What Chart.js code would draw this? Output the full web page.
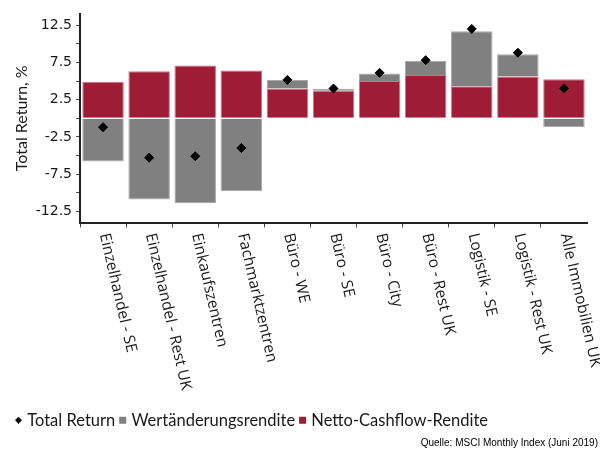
<!DOCTYPE html>
<html lang="de">
<head>
<meta charset="utf-8">
<title>Total Return UK</title>
<script src="https://cdn.jsdelivr.net/npm/chart.js@4/dist/chart.umd.min.js"></script>
<style>
  html, body { margin: 0; padding: 0; background: #fff; }
  #box { width: 600px; height: 451px; }
</style>
</head>
<body>
<div id="box"><canvas id="grafico"></canvas></div>
<script>
// ------------------------------------------------------------
// Data (values in %)
// ------------------------------------------------------------
const kategorien = [
  'Einzelhandel - SE', 'Einzelhandel - Rest UK', 'Einkaufszentren',
  'Fachmarktzentren', 'Büro - WE', 'Büro - SE', 'Büro - City',
  'Büro - Rest UK', 'Logistik - SE', 'Logistik - Rest UK', 'Alle Immobilien UK'
];
const nettoCashflow = [4.9, 6.3, 7.1, 6.4, 4.0, 3.7, 5.0, 5.8, 4.3, 5.6, 5.25];
const wertaenderung = [-5.8, -10.9, -11.4, -9.8, 1.15, 0.25, 1.0, 1.9, 7.4, 3.0, -1.2];
const totalReturn   = [-1.2, -5.3, -5.1, -4.0, 5.15, 4.0, 6.1, 7.8, 12.0, 8.8, 4.0];
const yTicks        = [-12.5, -10, -7.5, -5, -2.5, 0, 2.5, 5, 7.5, 10, 12.5];
const quelle = 'Quelle: MSCI Monthly Index (Juni 2019)';

const ROT  = '#9e1c36';
const GRAU = '#808080';

// Small diamond for the legend (rectRot in the legend is too big)
function rautenSymbol(tamanho, cor) {
  const c = document.createElement('canvas');
  c.width = c.height = tamanho;
  const g = c.getContext('2d');
  const m = tamanho / 2;
  g.fillStyle = cor;
  g.beginPath();
  g.moveTo(m, 0); g.lineTo(tamanho, m); g.lineTo(m, tamanho); g.lineTo(0, m);
  g.closePath();
  g.fill();
  return c;
}
const legendRaute = rautenSymbol(7, '#000');

// Rotated category labels (reading downwards) + source line.
// Chart.js only rotates the other way, so we draw them ourselves.
const xLabelsPlugin = {
  id: 'xLabels',
  afterDraw(chart) {
    const { ctx } = chart;
    const xs = chart.scales.x;
    ctx.save();
    ctx.fillStyle = '#1a1a1a';
    ctx.font = '15.5px "Open Sans", sans-serif';
    ctx.textAlign = 'left';
    ctx.textBaseline = 'middle';
    kategorien.forEach((nome, i) => {
      ctx.save();
      ctx.translate(xs.getPixelForValue(i) + 1, xs.top + 11);
      ctx.rotate(77 * Math.PI / 180);
      ctx.fillText(nome, 0, 0);
      ctx.restore();
    });
    ctx.font = '10px "Liberation Sans", Arial, sans-serif';
    ctx.textAlign = 'right';
    ctx.fillStyle = '#000';
    ctx.fillText(quelle, 598, 443);
    ctx.restore();
  }
};

new Chart(document.getElementById('grafico'), {
  type: 'bar',
  data: {
    labels: kategorien,
    datasets: [
      {
        type: 'line',
        label: 'Total Return',
        data: totalReturn,
        stack: 'tr',           // keep the markers out of the bar stack
        showLine: false,
        pointStyle: 'rectRot',
        pointRadius: 4.5,
        pointHoverRadius: 4.5,
        backgroundColor: '#000',
        borderColor: '#000',
        order: 0
      },
      {
        label: 'Wertänderungsrendite',
        data: wertaenderung,
        backgroundColor: GRAU,
        borderColor: '#a8a8a8',
        borderWidth: 1,
        pointStyle: 'rect',
        order: 2               // stacked on top of the cashflow part
      },
      {
        label: 'Netto-Cashflow-Rendite',
        data: nettoCashflow,
        backgroundColor: ROT,
        borderColor: '#c97586',
        borderWidth: 1,
        pointStyle: 'rect',
        order: 1
      }
    ]
  },
  options: {
    responsive: true,
    maintainAspectRatio: false,
    animation: false,
    layout: { padding: { left: 11, right: 13, top: 14, bottom: 12.5 } },
    datasets: {
      bar: { barPercentage: 0.9, categoryPercentage: 1 }
    },
    plugins: {
      tooltip: { enabled: false },
      legend: {
        position: 'bottom',
        align: 'start',
        labels: {
          usePointStyle: true,
          boxHeight: 7,
          boxWidth: 1,
          padding: 7,
          color: '#1a1a1a',
          font: { family: 'Lato', size: 16.5 },
          sort: (a, b) => a.datasetIndex - b.datasetIndex,
          generateLabels: chart =>
            Chart.defaults.plugins.legend.labels.generateLabels(chart)
              .map(l => ({
                ...l,
                lineWidth: 0,
                pointStyle: l.datasetIndex === 0 ? legendRaute : 'rect'
              }))
        }
      }
    },
    scales: {
      x: {
        stacked: true,
        grid: {
          offset: true,
          drawOnChartArea: false,
          tickLength: 5,
          // no tick on the far right end
          tickColor: ctx => ctx.index === undefined ? 'rgba(0,0,0,0)' : '#444'
        },
        border: { color: '#222', width: 2 },
        ticks: { display: false },
        afterFit: scale => { scale.height = 182.5; }
      },
      y: {
        stacked: true,
        min: -14,
        max: 14,
        afterBuildTicks: scale => {
          scale.ticks = yTicks.map(v => ({ value: v }));
        },
        afterFit: scale => { scale.width = 69; },
        grid: { drawOnChartArea: false, tickLength: 4, tickColor: '#444' },
        border: { color: '#222', width: 2 },
        ticks: {
          padding: 4,
          color: '#1a1a1a',
          font: { family: 'DejaVu Sans', size: 14 },
          callback: v => Math.abs(v) % 5 === 2.5 ? v.toFixed(1) : ''
        },
        title: {
          display: true,
          text: 'Total Return, %',
          color: '#1a1a1a',
          font: { family: 'Lato', size: 16 },
          padding: { top: 1, bottom: 0 }
        }
      }
    }
  },
  plugins: [xLabelsPlugin]
});
</script>
</body>
</html>
